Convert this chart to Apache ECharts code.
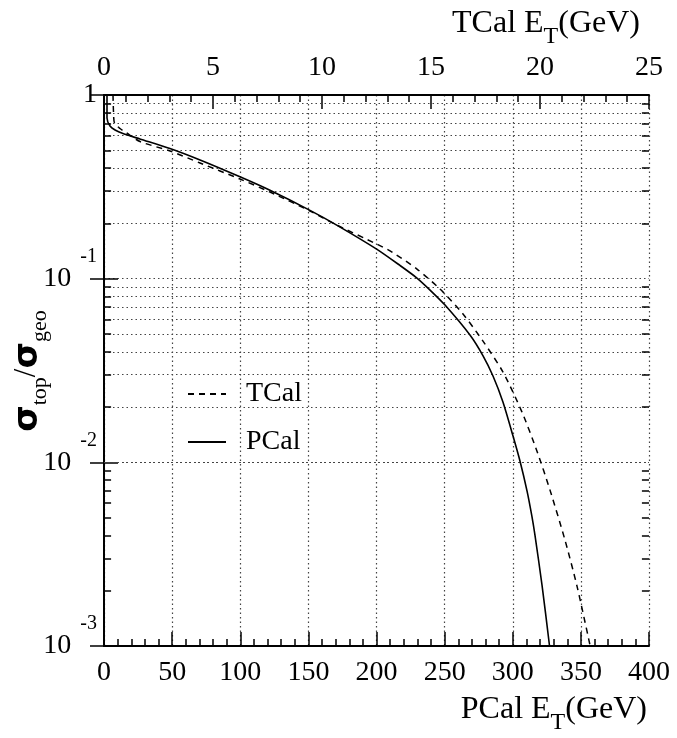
<!DOCTYPE html>
<html>
<head>
<meta charset="utf-8">
<script src="https://cdn.jsdelivr.net/npm/echarts@6/dist/echarts.min.js"></script>
<style>
html,body{margin:0;padding:0;background:#fff;}
#c{width:677px;height:738px;}
</style>
</head>
<body>
<div id="c"></div>
<script>
// ---- data ----
const pcalX = [2.2, 2.2, 4.4, 8.1, 13.9, 26.4, 48.4, 70.5, 99.8, 121.8, 151.2, 170.8, 200.1, 217.2, 229.7, 239.3, 250.3, 268.6, 278.2, 285.5, 292.8, 300.2, 305.3, 310.5, 314.1, 316.3, 321.5, 327.0];
const pcalY = [1.0, 0.749, 0.678, 0.645, 0.617, 0.576, 0.511, 0.4426, 0.3584, 0.3027, 0.2355, 0.1958, 0.1449, 0.1181, 0.1008, 0.0867, 0.0718, 0.0493, 0.0380, 0.0295, 0.0213, 0.0139, 0.01016, 0.00697, 0.00506, 0.00401, 0.00214, 0.00100];
const tcalX = [0.413, 0.436, 0.482, 0.734, 1.009, 1.651, 3.028, 4.404, 6.239, 7.615, 9.450, 10.674, 12.509, 13.211, 14.358, 15.413, 16.468, 17.385, 18.303, 19.174, 19.862, 20.459, 21.147, 21.697, 22.294];
const tcalY = [1.0, 0.808, 0.704, 0.657, 0.625, 0.558, 0.4955, 0.4263, 0.3487, 0.2962, 0.2334, 0.1959, 0.1543, 0.1396, 0.1128, 0.0878, 0.0642, 0.0457, 0.0310, 0.01877, 0.0115, 0.00706, 0.00377, 0.00212, 0.00101];
const pcalTicks = [0, 50, 100, 150, 200, 250, 300, 350, 400];
const tcalTicks = [0, 5, 10, 15, 20, 25];
const decades = [0.001, 0.01, 0.1, 1];
const minorMult = [2, 3, 4, 5, 6, 7, 8, 9];
const seriesNames = ['TCal', 'PCal'];

const FONT = 'Liberation Serif';
const minorVals = [];
decades.slice(0, 3).forEach(d => minorMult.forEach(m => minorVals.push(+(d * m).toPrecision(3))));

const dotted = { color: '#444', type: [1.5, 3], width: 1.2 };
const tickStyle = { color: '#000', width: 1.5 };

const mlData = [];
minorVals.forEach(v => {
  mlData.push({ yAxis: v, lineStyle: dotted });
  mlData.push([{ coord: [0, v], lineStyle: Object.assign({ type: 'solid' }, tickStyle) }, { coord: [5.2, v] }]);
  mlData.push([{ coord: [394.8, v], lineStyle: Object.assign({ type: 'solid' }, tickStyle) }, { coord: [400, v] }]);
});

const chart = echarts.init(document.getElementById('c'), null, { renderer: 'canvas' });
const axisLabelX = { fontSize: 28, fontFamily: FONT, color: '#000', margin: 13, showMinLabel: true, showMaxLabel: true };
const titleRich = {
  a: { fontSize: 32, fontFamily: FONT, fill: '#000', lineHeight: 32, verticalAlign: 'top' },
  s: { fontSize: 24, fontFamily: FONT, fill: '#000', lineHeight: 41, verticalAlign: 'top', padding: [17, 0, 0, 0] }
};

chart.setOption({
  animation: false,
  backgroundColor: '#fff',
  grid: { left: 104, right: 28, top: 95, bottom: 92, containLabel: false },
  legend: {
    data: seriesNames,
    orient: 'vertical',
    left: 182, top: 375,
    itemWidth: 38, itemHeight: 14, itemGap: 20,
    itemStyle: { opacity: 0 },
    textStyle: { fontSize: 28, fontFamily: FONT, color: '#000', padding: [0, 0, 0, 15] }
  },
  xAxis: [
    {
      type: 'value', position: 'bottom', min: pcalTicks[0], max: pcalTicks[pcalTicks.length - 1], interval: 50,
      axisLine: { lineStyle: { color: '#000', width: 2 } },
      axisTick: { inside: true, length: 14, lineStyle: tickStyle },
      minorTick: { show: true, splitNumber: 5, length: 7, lineStyle: tickStyle },
      splitLine: { show: true, lineStyle: dotted },
      axisLabel: axisLabelX
    },
    {
      type: 'value', position: 'top', min: tcalTicks[0], max: tcalTicks[tcalTicks.length - 1], interval: 5,
      axisLine: { lineStyle: { color: '#000', width: 2 } },
      axisTick: { inside: true, length: 14, lineStyle: tickStyle },
      minorTick: { show: true, splitNumber: 5, length: 7, lineStyle: tickStyle },
      splitLine: { show: false },
      axisLabel: axisLabelX
    }
  ],
  yAxis: [
    {
      type: 'log', logBase: 10, position: 'left', min: decades[0], max: decades[decades.length - 1],
      axisLine: { show: true, lineStyle: { color: '#000', width: 2 } },
      axisTick: { show: true, inside: true, length: 14, lineStyle: tickStyle },
      splitLine: { show: true, lineStyle: dotted },
      axisLabel: {
        margin: 7,
        formatter: function (v) {
          if (v >= 0.999) return '{b|1}';
          const e = Math.round(Math.log10(v));
          return '{b|10}{e|' + e + '}';
        },
        rich: {
          b: { fontSize: 28, fontFamily: FONT, color: '#000', lineHeight: 28, verticalAlign: 'middle' },
          e: { fontSize: 20, fontFamily: FONT, color: '#000', lineHeight: 64, verticalAlign: 'top', padding: [0, 0, 44, 9] }
        }
      }
    },
    {
      type: 'log', logBase: 10, position: 'right', min: decades[0], max: decades[decades.length - 1],
      axisLine: { show: true, lineStyle: { color: '#000', width: 2 } },
      axisTick: { show: true, inside: true, length: 14, lineStyle: tickStyle },
      splitLine: { show: false },
      axisLabel: { show: false }
    }
  ],
  series: [
    {
      name: seriesNames[0], type: 'line', xAxisIndex: 1, yAxisIndex: 0,
      data: tcalX.map((x, i) => [x, tcalY[i]]),
      symbol: 'none', showSymbol: false, smooth: 0.25,
      lineStyle: { color: '#000', width: 1.5, type: [6, 5] },
      itemStyle: { color: '#000' },
      z: 5
    },
    {
      name: seriesNames[1], type: 'line', xAxisIndex: 0, yAxisIndex: 0,
      data: pcalX.map((x, i) => [x, pcalY[i]]),
      symbol: 'none', showSymbol: false, smooth: 0.25,
      lineStyle: { color: '#000', width: 1.6, type: 'solid' },
      itemStyle: { color: '#000' },
      z: 5,
      markLine: {
        silent: true, symbol: ['none', 'none'], animation: false,
        label: { show: false },
        lineStyle: dotted,
        emphasis: { disabled: true },
        data: mlData
      }
    }
  ],
  graphic: [
    {
      type: 'text', right: 30, top: 694,
      style: { text: '{a|PCal E}{s|T}{a|(GeV)}', rich: titleRich }
    },
    {
      type: 'text', right: 37, top: 8,
      style: { text: '{a|TCal E}{s|T}{a|(GeV)}', rich: titleRich }
    },
    {
      type: 'text', x: 31, y: 371, rotation: Math.PI / 2,
      style: {
        text: '{s|σ}{u|top}{a|/}{s|σ}{u|geo}',
        align: 'center', verticalAlign: 'middle',
        rich: {
          s: { fontSize: 34, fontFamily: 'DejaVu Sans', fontWeight: 'bold', fill: '#000', lineHeight: 36, verticalAlign: 'top' },
          a: { fontSize: 31, fontFamily: FONT, fill: '#000', lineHeight: 36, verticalAlign: 'top' },
          u: { fontSize: 22, fontFamily: FONT, fill: '#000', lineHeight: 40, verticalAlign: 'top', padding: [18, 0, 0, 0] }
        }
      }
    }
  ]
});
</script>
</body>
</html>
